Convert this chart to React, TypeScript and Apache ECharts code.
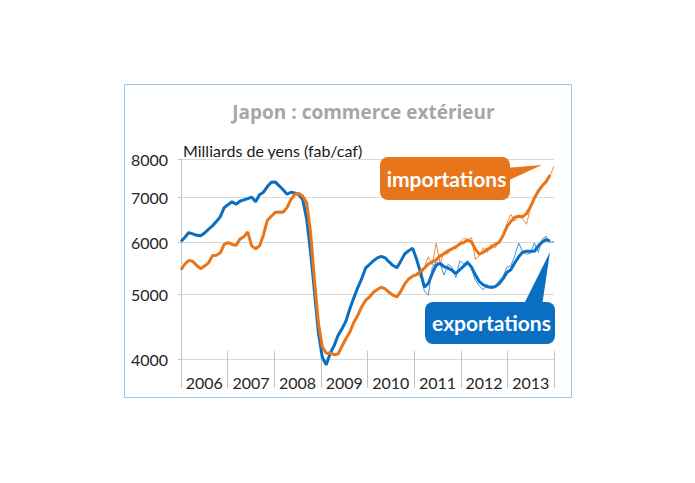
import React, { useEffect, useRef } from "react";
import * as echarts from "echarts";

const FONT = "Lato, 'Open Sans', sans-serif";
const BLUE = "#0a6fc2";
const ORANGE = "#e8751a";

const years = ["2006", "2007", "2008", "2009", "2010", "2011", "2012", "2013"];
const yTicks = [4000, 5000, 6000, 7000, 8000];

// smoothed monthly series, Jan 2006 onward (milliards de yens)
const exportsAvg = [
  6010, 6100, 6200, 6170, 6140, 6130, 6190, 6270, 6345, 6440, 6550, 6760,
  6830, 6900, 6840, 6910, 6945, 6975, 7010, 6900, 7065, 7130, 7270, 7380,
  7390, 7290, 7190, 7080, 7130, 7110, 7070, 6950, 6500, 5800, 5050, 4380,
  4020, 3920, 4080, 4190, 4340, 4440, 4560, 4760, 4940, 5120, 5280, 5480,
  5550, 5620, 5680, 5710, 5680, 5600, 5530, 5490, 5620, 5760, 5820, 5870,
  5650, 5400, 5130, 5200, 5380, 5540, 5570, 5510, 5480, 5440, 5380, 5450,
  5520, 5590, 5500, 5350, 5230, 5170, 5140, 5130, 5140, 5190, 5280, 5400,
  5450, 5580, 5700, 5790, 5810, 5810, 5810, 5920, 6000, 6050, 6020,
];
const importsAvg = [
  5450, 5560, 5630, 5610, 5530, 5470, 5520, 5580, 5720, 5730, 5780, 5950,
  5990, 5950, 5930, 6060, 6110, 6210, 5920, 5860, 5920, 6150, 6470, 6560,
  6650, 6660, 6650, 6760, 6950, 7080, 7100, 7030, 6880, 6200, 5250, 4530,
  4170, 4080, 4085, 4060, 4070, 4180, 4290, 4390, 4540, 4650, 4790, 4900,
  4960, 5040, 5090, 5130, 5100, 5040, 4990, 4960, 5060, 5190, 5280, 5330,
  5360, 5420, 5480, 5560, 5600, 5640, 5720, 5760, 5820, 5860, 5900, 5960,
  5990, 6040, 6000, 5850, 5750, 5790, 5850, 5890, 5950, 5990, 6130, 6330,
  6440, 6540, 6560, 6550, 6620, 6780, 6980, 7160, 7290, 7400, 7570,
];

// raw monthly values, Jan 2011 onward
const rawStart = 60;
const exportsRaw = [
  5700, 5350, 5060, 4990, 5500, 5600, 5560, 5350, 5550, 5500, 5300, 5620,
  5560, 5620, 5460, 5250, 5150, 5080, 5180, 5100, 5150, 5250, 5320, 5500,
  5520, 5720, 5980, 5800, 5750, 5770, 5980, 5790, 6060, 6120, 5990, 6010,
];
const importsRaw = [
  5400, 5300, 5500, 5700, 5540, 5980, 5560, 5800, 5760, 5880, 5860, 6000,
  6080, 6050, 6090, 5650, 5720, 5880, 5780, 5960, 5880, 6000, 6100, 6400,
  6600, 6450, 6560, 6500, 6380, 6750, 7050, 7100, 7300, 7350, 7550, 7800,
];

const pairs = (arr: number[], start: number) => arr.map((v, k) => [start + k, v]);

const App: React.FC = () => {
  const chartRef = useRef<HTMLDivElement>(null);

  useEffect(() => {
    if (!chartRef.current) return;
    const chart = echarts.init(chartRef.current, undefined, { renderer: "svg" });

    chart.setOption({
      animation: false,
      textStyle: { fontFamily: FONT },
      grid: { left: 181, right: 141, top: 159, bottom: 124 },
      xAxis: [
        { type: "value", min: 0, max: 95, show: false },
        {
          type: "category",
          data: years,
          position: "bottom",
          offset: -8,
          boundaryGap: true,
          axisLine: { show: false },
          axisTick: { show: true, length: 37, interval: 0, lineStyle: { color: "#c4c4c4" } },
          axisLabel: { interval: 0, margin: 23, fontSize: 16, color: "#262626", fontFamily: FONT },
          splitLine: { show: false },
        },
      ],
      yAxis: {
        type: "log",
        logBase: 10,
        min: 4000,
        max: 8000,
        axisLine: { show: true, lineStyle: { color: "#c4c4c4" } },
        axisTick: { show: true, customValues: yTicks, length: 3, lineStyle: { color: "#c4c4c4" } },
        axisLabel: {
          customValues: yTicks,
          formatter: (v: number) => String(Math.round(v)),
          fontSize: 16,
          color: "#262626",
          fontFamily: FONT,
          margin: 13,
        },
        splitLine: { show: true, lineStyle: { color: "#d9d9d9", width: 1 } },
      },
      series: [
        {
          type: "line",
          data: pairs(exportsRaw, rawStart),
          symbol: "none",
          lineStyle: { width: 1, color: "#3f93d8" },
          z: 2,
        },
        {
          type: "line",
          data: pairs(importsRaw, rawStart),
          symbol: "none",
          lineStyle: { width: 1, color: "#f08a3a" },
          z: 2,
        },
        {
          type: "line",
          data: pairs(exportsAvg, 0),
          symbol: "none",
          clip: false,
          lineStyle: { width: 3, color: BLUE },
          z: 3,
        },
        {
          type: "line",
          data: pairs(importsAvg, 0),
          symbol: "none",
          clip: false,
          lineStyle: { width: 3, color: ORANGE },
          z: 3,
        },
      ],
      graphic: [
        {
          type: "rect",
          silent: true,
          shape: { x: 124.5, y: 84.5, width: 447, height: 313 },
          style: { fill: "none", stroke: "#9dc6ea", lineWidth: 1 },
        },
        {
          type: "text",
          x: 363.5,
          y: 112,
          style: {
            text: "Japon : commerce extérieur",
            fill: "#a6a6a6",
            fontSize: 19,
            fontWeight: "bold",
            fontFamily: "'Open Sans', Lato, sans-serif",
            align: "center",
            verticalAlign: "middle",
          },
        },
        {
          type: "text",
          x: 183,
          y: 150,
          style: {
            text: "Milliards de yens (fab/caf)",
            fill: "#1a1a1a",
            fontSize: 16,
            fontFamily: FONT,
            align: "left",
            verticalAlign: "middle",
          },
        },
        {
          type: "polygon",
          z: 100,
          shape: { points: [[505, 168], [542, 165], [505, 182]] },
          style: { fill: ORANGE },
        },
        {
          type: "rect",
          z: 100,
          shape: { x: 380, y: 157, width: 130, height: 43, r: 8 },
          style: { fill: ORANGE },
        },
        {
          type: "text",
          z: 101,
          x: 446.5,
          y: 178.5,
          style: {
            text: "importations",
            fill: "#ffffff",
            fontSize: 21,
            fontWeight: "bold",
            fontFamily: FONT,
            align: "center",
            verticalAlign: "middle",
          },
        },
        {
          type: "polygon",
          z: 100,
          shape: { points: [[523, 306], [550, 252], [542, 306]] },
          style: { fill: BLUE },
        },
        {
          type: "rect",
          z: 100,
          shape: { x: 425, y: 302, width: 130, height: 42, r: 8 },
          style: { fill: BLUE },
        },
        {
          type: "text",
          z: 101,
          x: 491.5,
          y: 322.5,
          style: {
            text: "exportations",
            fill: "#ffffff",
            fontSize: 21,
            fontWeight: "bold",
            fontFamily: FONT,
            align: "center",
            verticalAlign: "middle",
          },
        },
      ],
    });

    return () => chart.dispose();
  }, []);

  return (
    <div
      ref={chartRef}
      style={{ position: "fixed", left: 0, top: 0, width: "695px", height: "483px", background: "#ffffff" }}
    />
  );
};

export default App;
